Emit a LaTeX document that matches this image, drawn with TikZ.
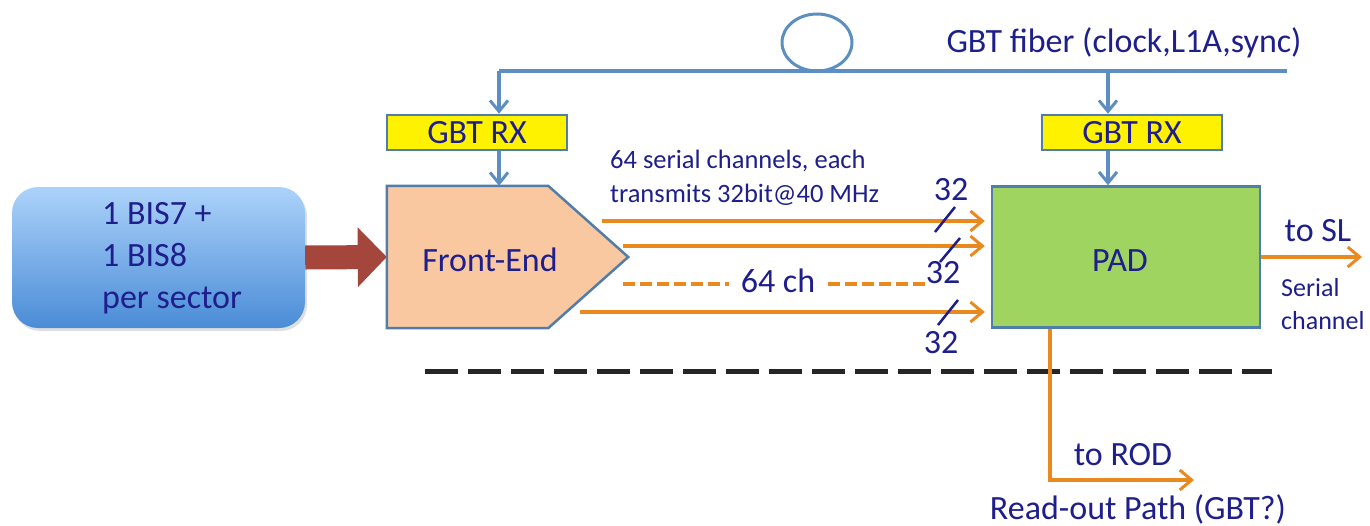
\documentclass[tikz,border=0pt]{standalone}
\usepackage{fontspec}
\setmainfont{Carlito}
\usetikzlibrary{arrows.meta,shadows,shapes.geometric}
\definecolor{txt}{RGB}{30,30,140}
\definecolor{fib}{RGB}{92,142,194}
\definecolor{org}{RGB}{234,137,30}
\definecolor{padc}{RGB}{160,212,96}
\definecolor{fec}{RGB}{249,200,160}
\definecolor{brd}{RGB}{80,125,170}
\definecolor{redarr}{RGB}{165,70,60}
\definecolor{bluetop}{RGB}{172,210,250}
\definecolor{bluebot}{RGB}{74,140,215}
\newcommand\myBig{\fontsize{34}{42}\selectfont}
\newcommand\mySmall{\fontsize{26}{33}\selectfont}
\begin{document}
\begin{tikzpicture}[x=1pt,y=-1pt,
  lbl/.style={text=txt,font=\myBig,inner sep=0pt},
  slbl/.style={text=txt,font=\mySmall,inner sep=0pt,align=left},
  rxbox/.style={draw=brd,line width=2.5pt,fill=yellow,minimum width=180pt,minimum height=35pt,inner sep=0pt,text=txt,font=\myBig},
  fibline/.style={draw=fib,line width=3.5pt},
  fibarrow/.style={fibline,-{Straight Barb[length=11pt,width=18pt,line width=3pt]}},
  orgarrow/.style={draw=org,line width=3.5pt,-{Straight Barb[length=12pt,width=20pt,line width=3pt]}},
  slashmark/.style={draw=txt,line width=2.5pt},
]
\useasboundingbox (0,0) rectangle (1370,525);

% source box
\node[rounded corners=26pt,minimum width=293pt,minimum height=141pt,top color=bluetop,bottom color=bluebot,draw=none,
  drop shadow={opacity=0.25,shadow xshift=2pt,shadow yshift=-3pt}] (src) at (158.5,257.5) {};
\node[lbl,anchor=west,align=left,font=\fontsize{34}{42}\selectfont] (srct) at (102,258) {1 BIS7 +\\1 BIS8\\per sector};

% front-end pentagon
\node[minimum width=241pt,minimum height=142pt,inner sep=0pt] (fe) at (507.5,257) {};
\filldraw[fill=fec,draw=brd,line width=2.5pt,line join=miter]
  (fe.north west) -- ([xshift=-80pt]fe.north east) -- (fe.east) -- ([xshift=-80pt]fe.south east) -- (fe.south west) -- cycle;
\node[lbl] (fet) at (490,260) {Front-End};

% red arrow
\draw[redarr,line width=24pt,-{Triangle[length=29pt,width=58pt]}] (src.east) -- (fe.west);

% GBT RX boxes
\node[rxbox] (rxl) at (477,132.5) {GBT RX};
\node[rxbox] (rxr) at (1132,132.5) {GBT RX};

% PAD
\node[draw=brd,line width=2.5pt,fill=padc,minimum width=268pt,minimum height=141pt,inner sep=0pt] (pad) at (1126,257) {};
\node[lbl] (padt) at (1120,261) {PAD};

% fiber
\coordinate (fl) at (499,71);
\coordinate (fm) at (1108,71);
\coordinate (fr) at (1287,71);
\node[ellipse,draw=fib,line width=3pt,minimum width=70pt,minimum height=57pt,inner sep=0pt] (loop) at (817,42.5) {};
\draw[fibline,line cap=butt] (fr) -- (fl);
\draw[fibarrow] (fl) -- (fl |- rxl.north);
\draw[fibarrow] (fm) -- (fm |- rxr.north);
\draw[fibarrow] (fl |- rxl.south) -- (fl |- fe.north);
\draw[fibarrow] (fm |- rxr.south) -- (fm |- pad.north);
\node[lbl] (fibt) at (1124,43) {GBT fiber (clock,L1A,sync)};

% serial channels
\node[slbl,anchor=west,font=\fontsize{26.5}{34}\selectfont] (sert) at (610,178) {64 serial channels, each\\transmits 32bit@40 MHz};
\coordinate (a1) at (602,221);
\coordinate (a2) at (623,246);
\coordinate (a4) at (580,312);
\draw[orgarrow,shorten >=6pt] (a1) -- (pad.west |- a1);
\draw[orgarrow,shorten >=6pt] (a2) -- (pad.west |- a2);
\draw[orgarrow,shorten >=6pt] (a4) -- (pad.west |- a4);
\node[lbl] (ch) at (778,281) {64 ch};
\coordinate (d1) at (623,284);
\coordinate (d1e) at (729,284);
\coordinate (d2) at (828,284);
\coordinate (d2e) at (928,284);
\draw[draw=org,line width=3.5pt,dash pattern=on 12pt off 5pt] (d1) -- (d1e);
\draw[draw=org,line width=3.5pt,dash pattern=on 12pt off 5pt] (d2) -- (d2e);

% slash marks and widths
\draw[slashmark] (935,232) -- (955,207);
\draw[slashmark] (940,262) -- (960,238);
\draw[slashmark] (938,325) -- (958,300);
\node[lbl] (w1) at (951,190) {32};
\node[lbl] (w2) at (943,273) {32};
\node[lbl] (w3) at (941,343) {32};

% to SL
\coordinate (sl) at (1362,257);
\draw[orgarrow] (pad.east) -- (sl);
\node[lbl] (tosl) at (1318,231) {to SL};
\node[slbl,anchor=west] (serc) at (1281,304) {Serial\\channel};

% dashed separator
\draw[line width=5pt,draw=black!85,dash pattern=on 33pt off 10pt] (425,371) -- (1272,371);

% readout
\coordinate (ro) at (1050,480);
\coordinate (roend) at (1194,480);
\draw[orgarrow,line join=miter] (ro |- pad.south) -- (ro) -- (roend);
\node[lbl] (rod) at (1123,455) {to ROD};
\node[lbl] (rop) at (1138,509) {Read-out Path (GBT?)};
\end{tikzpicture}
\end{document}
